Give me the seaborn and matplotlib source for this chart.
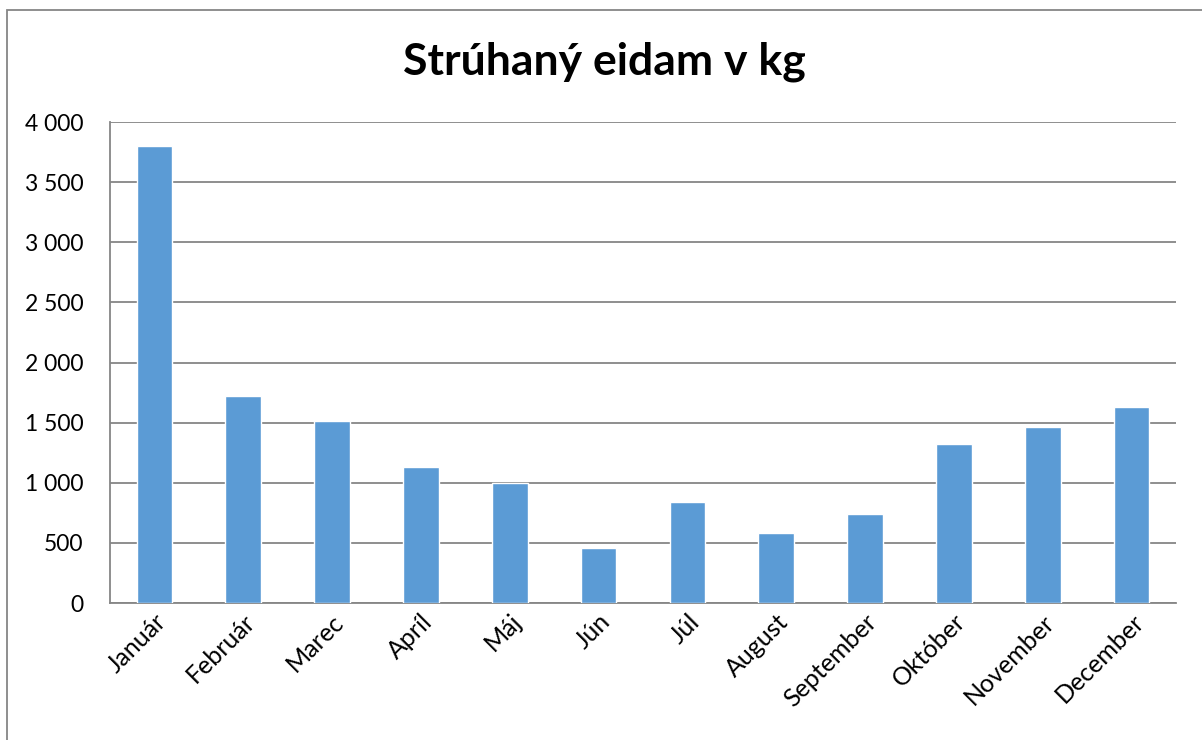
import matplotlib
matplotlib.use('Agg')
import matplotlib.pyplot as plt
import seaborn as sns
import pandas as pd
from matplotlib.ticker import FuncFormatter, MultipleLocator
from matplotlib.patches import Rectangle

months = ['Január', 'Február', 'Marec', 'Apríl', 'Máj', 'Jún', 'Júl',
          'August', 'September', 'Október', 'November', 'December']
kg = [3800, 1720, 1515, 1130, 997, 460, 837, 583, 742, 1322, 1462, 1630]

title = 'Strúhaný eidam v kg'

sns.set_theme(style='white')
plt.rcParams['font.family'] = ['Lato', 'DejaVu Sans']

df = pd.DataFrame({'mesiac': months, 'kg': kg})

fig = plt.figure(figsize=(12.02, 7.40), dpi=100)
ax = fig.add_axes([0.0915, 0.1851, 0.8869, 0.65])

sns.barplot(data=df, x='mesiac', y='kg', color='#5B9BD5', width=0.4,
            saturation=1, ax=ax, zorder=3)

ax.set_ylim(0, 4000)
ax.set_xlim(-0.5, len(months) - 0.5)
ax.yaxis.set_major_locator(MultipleLocator(500))
ax.yaxis.set_major_formatter(FuncFormatter(lambda v, p: f'{int(v):,}'.replace(',', ' ')))
ax.grid(axis='y', color='#868686', linewidth=1.3, zorder=0)
ax.set_xlabel('')
ax.set_ylabel('')

for side in ['top', 'right']:
    ax.spines[side].set_visible(False)
for side in ['left', 'bottom']:
    ax.spines[side].set_color('#868686')
    ax.spines[side].set_linewidth(1.3)

ax.tick_params(axis='y', length=0, pad=19, labelsize=16.5, labelcolor='black')
ax.tick_params(axis='x', length=0, pad=5, labelsize=18, labelcolor='black')
for lbl in ax.get_xticklabels():
    lbl.set_rotation(45)
    lbl.set_ha('right')
    lbl.set_rotation_mode('anchor')

fig.text(0.503, 0.916, title, ha='center', va='center', fontsize=32,
         fontweight='bold', color='black')

# outer chart frame (cut off on the right and bottom)
fig.patches.append(Rectangle((7 / 1202, -0.1), 1.2, 1 - 10 / 740 + 0.1,
                             transform=fig.transFigure, fill=False,
                             edgecolor='#868686', linewidth=1.3))

fig.savefig('out.png', dpi=100)
